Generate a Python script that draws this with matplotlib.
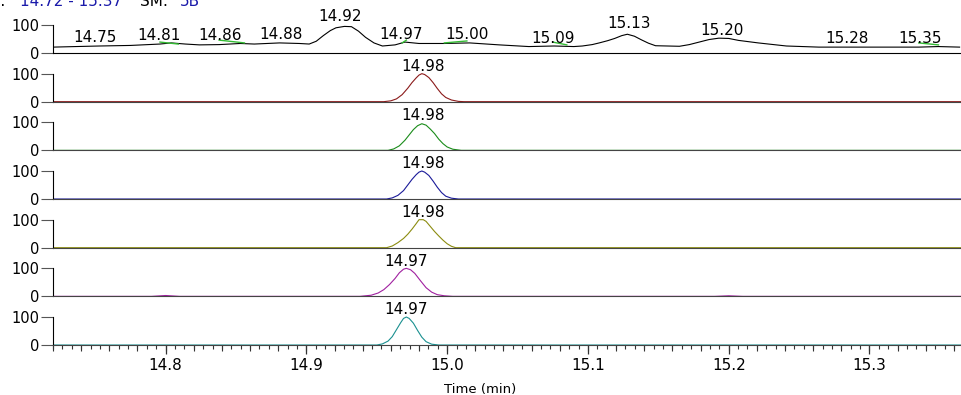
import matplotlib
matplotlib.use("Agg")
import matplotlib.pyplot as plt
from matplotlib.ticker import MultipleLocator, NullFormatter

plt.rcParams["font.family"] = ["DejaVu Sans"]

# x range of the chromatogram (min)
x_min, x_max = 14.72, 15.365

# top trace (TIC-like, relative abundance %)
tic_t = [14.720, 14.736, 14.753, 14.775, 14.796, 14.804, 14.814, 14.824, 14.838,
         14.853, 14.863, 14.881, 14.895, 14.902, 14.907, 14.912, 14.917, 14.921,
         14.927, 14.932, 14.937, 14.942, 14.948, 14.954, 14.963, 14.970, 14.980,
         14.998, 15.016, 15.037, 15.058, 15.076, 15.090, 15.096, 15.103, 15.108,
         15.114, 15.119, 15.124, 15.128, 15.133, 15.138, 15.143, 15.148, 15.165,
         15.172, 15.179, 15.186, 15.193, 15.200, 15.207, 15.221, 15.241, 15.264,
         15.287, 15.316, 15.335, 15.349, 15.364]
tic_v = [21, 23, 25, 27, 32, 36, 32, 29, 30,
         34, 32, 36, 34, 32, 42, 62, 80, 90,
         95, 94, 78, 56, 36, 25, 29, 39, 34,
         34, 36, 29, 23, 25, 23, 25, 30, 36,
         44, 52, 62, 67, 60, 47, 35, 26, 24,
         30, 39, 48, 53, 52, 45, 36, 25, 21,
         21, 21, 21, 23, 21]

# peak labels on the top trace: position (min), text, label height (%)
tic_label_t = [14.750, 14.795, 14.839, 14.882, 14.924, 14.967, 15.014, 15.075,
               15.129, 15.195, 15.284, 15.336]
tic_label_txt = ["14.75", "14.81", "14.86", "14.88", "14.92", "14.97", "15.00",
                 "15.09", "15.13", "15.20", "15.28", "15.35"]
tic_label_v = [40, 46, 46, 50, 114, 50, 50, 36, 89, 64, 36, 36]

# green integration marks on the top trace (t0, v0, t1, v1)
base_t0 = [14.796, 14.838, 14.968, 14.998, 15.075, 15.335]
base_v0 = [39, 46, 36, 36, 39, 36]
base_t1 = [14.809, 14.856, 14.971, 15.014, 15.085, 15.349]
base_v1 = [32, 36, 46, 43, 29, 29]

# extracted channels
red_t = [14.720, 14.955, 14.960, 14.964, 14.968, 14.972, 14.975, 14.978, 14.980,
         14.982, 14.984, 14.987, 14.990, 14.993, 14.996, 14.999, 15.003, 15.008,
         15.012, 15.365]
red_v = [0, 0, 3, 10, 25, 48, 68, 85, 95, 100, 97, 86, 68, 47, 28, 15, 6, 1, 0, 0]

green_t = [14.720, 14.958, 14.962, 14.966, 14.970, 14.973, 14.976, 14.979, 14.982,
           14.985, 14.988, 14.991, 14.994, 14.997, 15.000, 15.004, 15.010, 15.365]
green_v = [0, 0, 5, 16, 36, 55, 74, 88, 95, 90, 76, 60, 40, 24, 12, 4, 0, 0]

blue_t = [14.720, 14.957, 14.961, 14.965, 14.969, 14.972, 14.975, 14.978, 14.980,
          14.982, 14.984, 14.987, 14.990, 14.993, 14.996, 14.999, 15.003, 15.008,
          15.365]
blue_v = [0, 0, 4, 13, 30, 50, 70, 87, 96, 100, 96, 84, 64, 42, 23, 10, 3, 0, 0]

olive_t = [14.720, 14.957, 14.961, 14.965, 14.969, 14.972, 14.975, 14.978, 14.980,
           14.983, 14.985, 14.988, 14.991, 14.994, 14.997, 15.000, 15.003, 15.006,
           15.365]
olive_v = [0, 0, 6, 18, 33, 48, 66, 86, 100, 100, 94, 76, 58, 42, 27, 14, 5, 0, 0]

magenta_t = [14.720, 14.790, 14.800, 14.810, 14.938, 14.946, 14.951, 14.955, 14.959,
             14.963, 14.966, 14.969, 14.971, 14.974, 14.977, 14.981, 14.985, 14.989,
             14.993, 14.998, 15.004, 15.190, 15.200, 15.210, 15.365]
magenta_v = [0, 0, 3, 0, 0, 4, 12, 24, 42, 64, 84, 97, 100, 95, 82, 56, 31, 15,
             6, 2, 0, 0, 2, 0, 0]

teal_t = [14.720, 14.950, 14.954, 14.958, 14.961, 14.964, 14.967, 14.969, 14.971,
          14.973, 14.976, 14.979, 14.982, 14.985, 14.989, 14.994, 15.365]
teal_v = [0, 0, 4, 14, 30, 55, 80, 95, 100, 95, 78, 52, 28, 12, 3, 0, 0]

channel_label_t = [14.983, 14.983, 14.983, 14.983, 14.971, 14.971]
channel_label_txt = ["14.98", "14.98", "14.98", "14.98", "14.97", "14.97"]

channels = [
    (red_t, red_v, "#8b1a1a"),
    (green_t, green_v, "#1a8c1a"),
    (blue_t, blue_v, "#1a1a99"),
    (olive_t, olive_v, "#8c8c10"),
    (magenta_t, magenta_v, "#a020a0"),
    (teal_t, teal_v, "#1a9090"),
]

W, H = 961, 395
fig = plt.figure(figsize=(W / 100, H / 100), dpi=100)

left_px = 53
pitch_px = 48.67
scale_px = 28.0           # pixels for 0..100 %
first_bottom_px = 53
ytop = 100 * pitch_px / scale_px


def make_axes(i):
    bottom_px = first_bottom_px + pitch_px * i
    ax = fig.add_axes([left_px / W, 1 - bottom_px / H, 1 - left_px / W, pitch_px / H])
    ax.set_xlim(x_min, x_max)
    ax.set_ylim(0, ytop)
    ax.set_facecolor("none")
    for s in ("top", "right"):
        ax.spines[s].set_visible(False)
    ax.spines["left"].set_bounds(0, 100)
    ax.spines["left"].set_linewidth(0.8)
    ax.spines["bottom"].set_linewidth(0.8)
    ax.spines["bottom"].set_color("#444444")
    ax.set_yticks([0, 100])
    ax.tick_params(axis="y", length=9, width=0.8, pad=1, labelsize=10.5,
                   color="#555555")
    ax.tick_params(axis="x", which="both", bottom=False, labelbottom=False)
    return ax


# top trace
ax0 = make_axes(0)
ax0.spines["bottom"].set_color("black")
ax0.plot(tic_t, tic_v, color="black", lw=0.8)
for t0, v0, t1, v1 in zip(base_t0, base_v0, base_t1, base_v1):
    ax0.plot([t0, t1], [v0, v1], color="#33bb33", lw=1.0)
for t, txt, v in zip(tic_label_t, tic_label_txt, tic_label_v):
    ax0.text(t, v, txt, ha="center", va="baseline", fontsize=11)

axes = [ax0]
for i, (ts, vs, col) in enumerate(channels):
    ax = make_axes(i + 1)
    ax.plot(ts, vs, color=col, lw=0.8)
    ax.text(channel_label_t[i], 110, channel_label_txt[i], ha="center",
            va="baseline", fontsize=11)
    axes.append(ax)

# bottom axis ticks: labelled every 0.1, medium every 0.02, small every 0.1/15
axb = axes[-1]
axb.xaxis.set_major_locator(MultipleLocator(0.1))
axb.xaxis.set_minor_locator(MultipleLocator(0.1 / 15))
axb.tick_params(axis="x", which="major", bottom=True, labelbottom=True,
                length=6.5, width=0.9, pad=3, labelsize=11, color="#333333")
axb.tick_params(axis="x", which="minor", bottom=True, length=3, width=0.8,
                color="#333333")
sec = axb.secondary_xaxis("bottom")
sec.spines["bottom"].set_visible(False)
sec.xaxis.set_major_locator(MultipleLocator(0.02))
sec.xaxis.set_major_formatter(NullFormatter())
sec.tick_params(axis="x", length=4.5, width=0.8, color="#333333")
axb.set_xlabel("Time (min)", fontsize=9.5)
axb.xaxis.set_label_coords((480 - left_px) / (W - left_px), -0.78)

# header, cut off at the top edge like the original
base_y = 1 - 6 / H
fig.text(6 / W, base_y, "RT:", ha="right", va="baseline", fontsize=11)
fig.text(20 / W, base_y, "14.72 - 15.37", ha="left", va="baseline",
         fontsize=11, color="#1a1aaa")
fig.text(140 / W, base_y, "SM:", ha="left", va="baseline", fontsize=11)
fig.text(180 / W, base_y, "5B", ha="left", va="baseline", fontsize=11,
         color="#1a1aaa")

fig.savefig("out.png", dpi=100)
